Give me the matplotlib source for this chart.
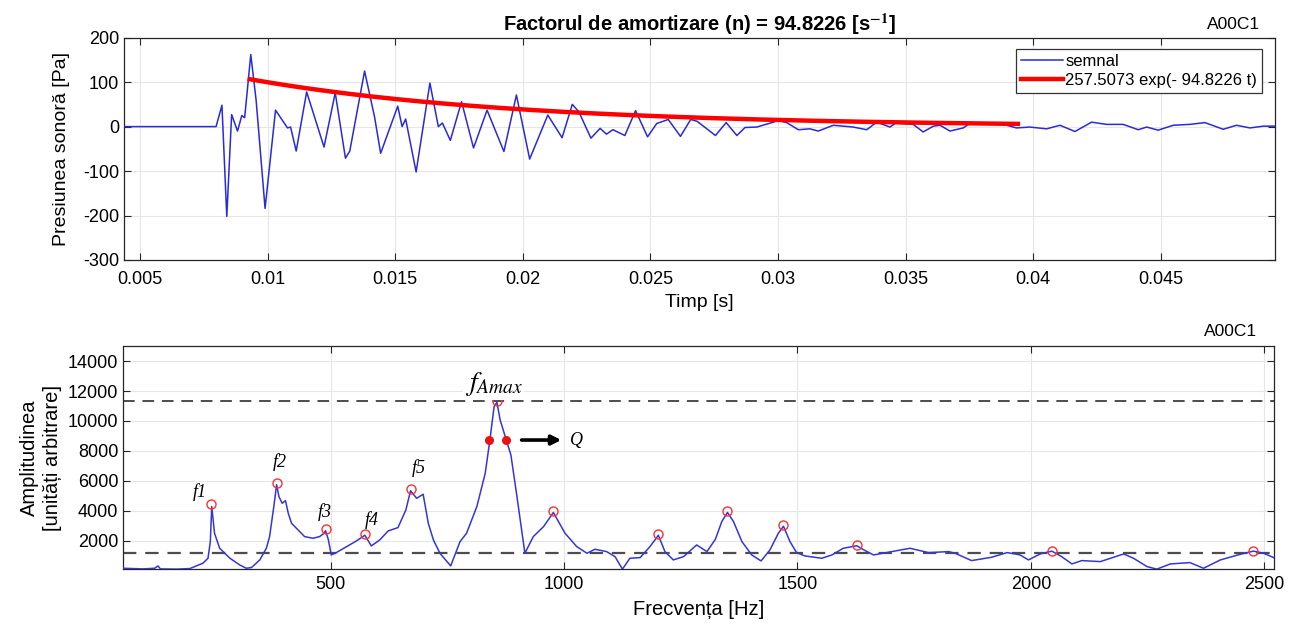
import numpy as np
import matplotlib
matplotlib.use("Agg")
import matplotlib.pyplot as plt

plt.rcParams['font.family'] = ['Liberation Sans', 'DejaVu Sans']
plt.rcParams['mathtext.fontset'] = 'stix'
plt.rcParams['axes.unicode_minus'] = False

# semnalul masurat (timp [s], presiune [Pa])
t_semnal = [0.00437, 0.00798, 0.00821, 0.00840, 0.00859, 0.00882, 0.00899, 0.00910, 0.00934, 0.00955,
            0.00990, 0.01031, 0.01078, 0.01090, 0.01112, 0.01153, 0.01221, 0.01265, 0.01305, 0.01322,
            0.01380, 0.01419, 0.01443, 0.01510, 0.01527, 0.01541, 0.01582, 0.01636, 0.01669, 0.01685,
            0.01716, 0.01760, 0.01807, 0.01860, 0.01926, 0.01975, 0.02027, 0.02098, 0.02154, 0.02194,
            0.02220, 0.02267, 0.02303, 0.02328, 0.02353, 0.02400, 0.02442, 0.02489, 0.02525, 0.02570,
            0.02618, 0.02658, 0.02683, 0.02755, 0.02797, 0.02839, 0.02871, 0.02917, 0.02982, 0.03000,
            0.03034, 0.03080, 0.03125, 0.03158, 0.03217, 0.03295, 0.03348, 0.03387, 0.03439, 0.03462,
            0.03530, 0.03569, 0.03609, 0.03635, 0.03674, 0.03726, 0.03752, 0.03818, 0.03896, 0.03935,
            0.03987, 0.04053, 0.04105, 0.04164, 0.04229, 0.04288, 0.04353, 0.04412, 0.04445, 0.04490,
            0.04549, 0.04614, 0.04673, 0.04745, 0.04797, 0.04850, 0.04902, 0.04948]
p_semnal = [0, 0, 48, -202, 27, -10, 25, 20, 162, 59,
            -184, 37, -3, -1, -55, 78, -46, 76, -71, -55,
            125, 22, -60, 46, 0, 17, -102, 98, 0, 8,
            -31, 56, -48, 37, -56, 71, -73, 26, -25, 50,
            33, -26, -4, -17, -7, -20, 36, -23, 7, 16,
            -22, 16, 12, -20, 9, -20, -2, -1, 10, 14,
            9, -7, -5, -10, 3, -1, -7, 10, -1, 8,
            5, -12, 1, 3, -10, -3, 7, 8, 3, -3,
            -1, -5, 3, -11, 10, 5, 5, -7, -1, -8,
            3, 5, 9, -6, 3, -3, 1, 1]

# parametrii fitului exponential (din legenda)
A_fit = 257.5073
n_fit = 94.8226
t_fit_start = 0.0093
t_fit_stop = 0.0394

# spectrul (frecventa [Hz], amplitudine)
f_spectru = [55, 98, 123, 130, 135, 170, 198, 226, 237, 242, 245, 251, 262, 284, 305, 319, 330, 348,
             362, 369, 378, 384, 389, 396, 403, 409, 416, 430, 444, 462, 476, 484, 489, 495, 501, 512,
             534, 555, 573, 587, 605, 623, 644, 661, 671, 684, 698, 709, 720, 734, 757, 777, 791, 813,
             831, 841, 850, 856, 863, 876, 886, 899, 916, 934, 956, 977, 1002, 1027, 1049, 1066, 1091,
             1109, 1125, 1141, 1163, 1184, 1202, 1216, 1234, 1256, 1284, 1306, 1324, 1338, 1350, 1363,
             1381, 1402, 1422, 1441, 1459, 1470, 1484, 1498, 1516, 1552, 1574, 1598, 1627, 1645, 1663,
             1702, 1741, 1781, 1824, 1838, 1873, 1916, 1949, 1966, 1977, 1995, 2020, 2045, 2066, 2088,
             2109, 2149, 2199, 2220, 2249, 2270, 2299, 2341, 2370, 2406, 2449, 2477, 2499, 2521]
A_spectru = [178, 135, 180, 335, 135, 120, 157, 512, 845, 1956, 4300, 2512, 1511, 845, 400, 178, 225, 734,
             1511, 2290, 4290, 5750, 4956, 4512, 4690, 3845, 3178, 2734, 2290, 2179, 2290, 2468, 2680, 2068, 1068, 1224,
             1624, 2000, 2380, 1668, 2068, 2668, 2890, 4068, 5350, 4845, 5112, 3178, 2068, 1178, 334, 1956, 2512, 4290,
             6512, 8734, 10956, 11250, 10067, 8734, 7734, 4956, 1178, 2290, 2956, 3900, 2512, 1624, 1178, 1445, 1290,
             956, 120, 845, 890, 1624, 2380, 1290, 734, 956, 1734, 1290, 2100, 3300, 3900, 3289,
             1956, 1067, 667, 1400, 2511, 2980, 1956, 1222, 1000, 845, 1067, 1511, 1680, 1356, 1067,
             1289, 1511, 1222, 1289, 1178, 689, 911, 1222, 1134, 1067, 733, 1133, 1320, 956, 467,
             689, 622, 1133, 844, 289, 120, 467, 555, 178, 733, 1111, 1320, 1178, 880]

# varfurile marcate
f_varf = [244, 384, 489, 573, 671, 856, 977, 1202, 1350, 1470, 1627, 2045, 2477]
A_varf = [4446, 5890, 2779, 2468, 5467, 11356, 4000, 2468, 4000, 3067, 1734, 1355, 1355]

# punctele pentru factorul de calitate Q
f_Q = [840, 876]
A_Q = [8734, 8734]

# nivelurile liniilor intrerupte
nivel_max = 11330
nivel_mediu = 1170

etichete_f = ['f1', 'f2', 'f3', 'f4', 'f5']
poz_etichete = [(219, 5290), (391, 7290), (487, 3956), (587, 3400), (689, 6867)]

albastru = '#2a2ad8'
gri_grid = '#e6e6e6'

fig = plt.figure(figsize=(12.98, 6.28), dpi=100)

# ---- graficul de sus: semnalul ----
ax1 = fig.add_axes([0.0955, 0.586, 0.8868, 0.354])
t_fit = np.linspace(t_fit_start, t_fit_stop, 200)
ax1.plot(t_semnal, p_semnal, color=albastru, lw=1.1, label='semnal', zorder=3)
ax1.plot(t_fit, A_fit * np.exp(-n_fit * t_fit), color='#ff0000', lw=3.2,
         label='257.5073 exp(- 94.8226 t)', zorder=4)
ax1.set_xlim(0.00437, 0.04948)
ax1.set_ylim(-300, 200)
ax1.set_xticks([0.005, 0.01, 0.015, 0.02, 0.025, 0.03, 0.035, 0.04, 0.045])
ax1.set_xticklabels(['0.005', '0.01', '0.015', '0.02', '0.025', '0.03', '0.035', '0.04', '0.045'])
ax1.set_yticks([-300, -200, -100, 0, 100, 200])
ax1.tick_params(axis='x', pad=8)
ax1.set_xlabel('Timp [s]', fontsize=14, labelpad=4)
ax1.set_ylabel('Presiunea sonoră [Pa]', fontsize=14, labelpad=9)
ax1.set_title('Factorul de amortizare (n) = 94.8226 [s$^{\\mathbf{-1}}$]', fontsize=14.5,
              fontweight='bold', pad=5)
ax1.text(0.987, 1.025, 'A00C1', transform=ax1.transAxes, ha='right', va='bottom', fontsize=12.5)
leg = ax1.legend(loc='upper right', bbox_to_anchor=(0.989, 0.95), borderaxespad=0,
                 fontsize=12, fancybox=False, framealpha=1, edgecolor='#333333',
                 handlelength=2.5, borderpad=0.3, labelspacing=0.25, handletextpad=0.15)
leg.get_frame().set_linewidth(0.9)

# ---- graficul de jos: spectrul ----
ax2 = fig.add_axes([0.0948, 0.0935, 0.8867, 0.3555])
ax2.plot(f_spectru, A_spectru, color='#3535d8', lw=1.1, zorder=3)
ax2.axhline(nivel_max, color='#4d4d4d', lw=1.4, ls=(0, (6, 4)), zorder=2)
ax2.axhline(nivel_mediu, color='#4d4d4d', lw=1.6, ls=(0, (6, 4)), zorder=2)
ax2.plot(f_varf, A_varf, 'o', ms=6.5, mfc='none', mec='#ff3030', mew=1.0, zorder=4)
ax2.plot(f_Q, A_Q, 'o', ms=5.5, color='#ee1111', zorder=5)
for txt, (fx, ay) in zip(etichete_f, poz_etichete):
    ax2.text(fx, ay, txt, fontsize=13, family='Liberation Serif', style='italic',
             ha='center', va='center', zorder=6)
ax2.text(849, 12450, r'$f_{Amax}$', fontsize=20, ha='center', va='center', zorder=6,
         bbox=dict(facecolor='white', edgecolor='none', pad=1))
ax2.annotate('', xy=(1000, 8730), xytext=(903, 8730),
             arrowprops=dict(arrowstyle='-|>', lw=2.6, color='black', mutation_scale=14), zorder=6)
ax2.text(1012, 8730, 'Q', fontsize=13, family='Liberation Serif', style='italic',
         ha='left', va='center', zorder=6,
         bbox=dict(facecolor='white', edgecolor='none', pad=1))
ax2.set_xlim(55, 2521)
ax2.set_ylim(110, 15000)
ax2.set_xticks([500, 1000, 1500, 2000, 2500])
ax2.set_yticks([2000, 4000, 6000, 8000, 10000, 12000, 14000])
ax2.tick_params(axis='x', pad=5)
ax2.set_xlabel('Frecvența [Hz]', fontsize=14.5, labelpad=5)
ax2.set_ylabel('Amplitudinea\n[unități arbitrare]', fontsize=14.5, labelpad=4, linespacing=1.25)
ax2.text(0.985, 1.03, 'A00C1', transform=ax2.transAxes, ha='right', va='bottom', fontsize=12.5)

for ax in (ax1, ax2):
    ax.grid(True, color=gri_grid, lw=0.8, zorder=0)
    ax.set_axisbelow(True)
    ax.tick_params(direction='in', top=True, right=True, labelsize=13, length=5,
                   width=0.8, color='#262626')
    for s in ax.spines.values():
        s.set_color('#262626')
        s.set_linewidth(0.9)

fig.savefig('out.png', dpi=100)
